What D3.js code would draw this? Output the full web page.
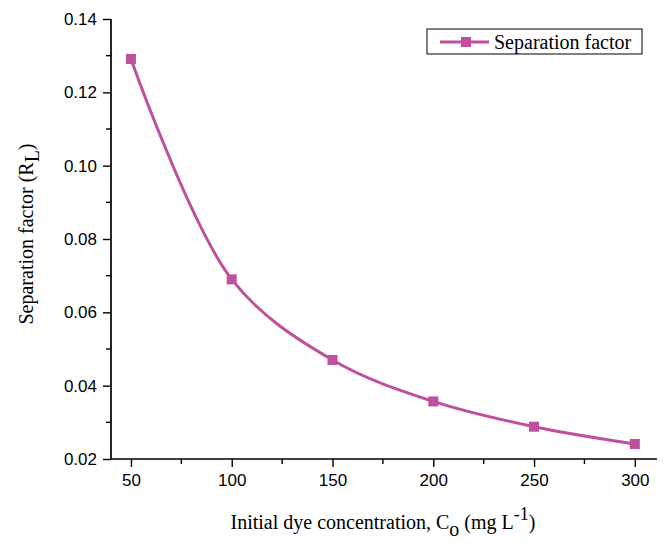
<!DOCTYPE html>
<html>
<head>
<meta charset="utf-8">
<script src="https://cdn.jsdelivr.net/npm/d3@7"></script>
<style>
  html, body { margin: 0; padding: 0; background: #fff; }
  svg { display: block; }
</style>
</head>
<body>
<svg id="chart" width="665" height="548"></svg>
<script>
// Initial dye concentration (mg/L) and separation factor R_L
const concentrations = [50, 100, 150, 200, 250, 300];
const separationFactor = [0.1291, 0.0690, 0.0470, 0.0357, 0.0288, 0.0241];
const xTickValues = [50, 100, 150, 200, 250, 300];
const yTickValues = [0.02, 0.04, 0.06, 0.08, 0.10, 0.12, 0.14];
const seriesName = "Separation factor";

const color = "#C0509E";
const svg = d3.select("#chart");

const plotLeft = 111, plotRight = 657, plotTop = 19, plotBottom = 459;

const x = d3.scaleLinear().domain([40.1, 311]).range([plotLeft, plotRight]);
const y = d3.scaleLinear().domain([0.02, 0.14]).range([plotBottom, plotTop]);

const tickFont = "'Liberation Sans', Arial, sans-serif";
const titleFont = "'Liberation Serif', 'Times New Roman', serif";

// X axis: major and minor ticks
const xMinor = d3.range(75, 300, 50);
const xAxisG = svg.append("g").attr("transform", `translate(0,${plotBottom})`);
xAxisG.append("line").attr("x1", plotLeft).attr("x2", plotRight).attr("y1", 0).attr("y2", 0)
  .attr("stroke", "#000").attr("stroke-width", 1.7);
xAxisG.selectAll(".minor").data(xMinor).join("line")
  .attr("x1", d => x(d)).attr("x2", d => x(d)).attr("y1", 0).attr("y2", 5)
  .attr("stroke", "#000").attr("stroke-width", 1.4);
const xAxis = d3.axisBottom(x).tickValues(xTickValues).tickSize(8).tickPadding(7)
  .tickFormat(d3.format("d"));
const xg = svg.append("g").attr("transform", `translate(0,${plotBottom})`).call(xAxis);
xg.select(".domain").remove();
xg.selectAll(".tick line").attr("stroke-width", 1.4);
xg.selectAll("text").attr("font-family", tickFont).attr("font-size", 17).attr("fill", "#000");

// Y axis: major and minor ticks
const yMinor = d3.range(0.03, 0.14, 0.02);
svg.append("line").attr("x1", plotLeft).attr("x2", plotLeft).attr("y1", plotTop).attr("y2", plotBottom)
  .attr("stroke", "#000").attr("stroke-width", 1.7);
svg.selectAll(".yminor").data(yMinor).join("line")
  .attr("x1", plotLeft - 5).attr("x2", plotLeft).attr("y1", d => y(d)).attr("y2", d => y(d))
  .attr("stroke", "#000").attr("stroke-width", 1.4);
const yAxis = d3.axisLeft(y).tickValues(yTickValues).tickSize(8).tickPadding(6)
  .tickFormat(d3.format(".2f"));
const yg = svg.append("g").attr("transform", `translate(${plotLeft},0)`).call(yAxis);
yg.select(".domain").remove();
yg.selectAll(".tick line").attr("stroke-width", 1.4);
yg.selectAll("text").attr("font-family", tickFont).attr("font-size", 17).attr("fill", "#000");

// Smoothed series line with square markers
const pts = concentrations.map((c, i) => [c, separationFactor[i]]);
const line = d3.line().x(d => x(d[0])).y(d => y(d[1])).curve(d3.curveCatmullRom.alpha(0.5));
svg.append("path").datum(pts).attr("d", line)
  .attr("fill", "none").attr("stroke", color).attr("stroke-width", 3);
const ms = 10;
svg.selectAll(".marker").data(pts).join("rect")
  .attr("x", d => x(d[0]) - ms / 2).attr("y", d => y(d[1]) - ms / 2)
  .attr("width", ms).attr("height", ms).attr("fill", color);

// Axis titles
const xt = svg.append("text").attr("x", 383).attr("y", 529).attr("text-anchor", "middle")
  .attr("font-family", titleFont).attr("font-size", 20).attr("fill", "#000");
xt.append("tspan").text("Initial dye concentration, C");
xt.append("tspan").attr("dy", 7).text("o");
xt.append("tspan").attr("dy", -7).text(" (mg L");
xt.append("tspan").attr("dy", -9).attr("font-size", 18).text("-1");
xt.append("tspan").attr("dy", 9).text(")");

const yt = svg.append("text").attr("transform", "translate(33,234) rotate(-90)")
  .attr("text-anchor", "middle")
  .attr("font-family", titleFont).attr("font-size", 20).attr("fill", "#000");
yt.append("tspan").text("Separation factor (R");
yt.append("tspan").attr("dy", 6).text("L");
yt.append("tspan").attr("dy", -6).text(")");

// Legend
const lg = svg.append("g");
lg.append("rect").attr("x", 427).attr("y", 29).attr("width", 215).attr("height", 25)
  .attr("fill", "#fff").attr("stroke", "#000").attr("stroke-width", 1);
lg.append("line").attr("x1", 440).attr("x2", 489).attr("y1", 42).attr("y2", 42)
  .attr("stroke", color).attr("stroke-width", 3);
lg.append("rect").attr("x", 466 - ms / 2).attr("y", 42 - ms / 2).attr("width", ms).attr("height", ms)
  .attr("fill", color);
lg.append("text").attr("x", 494).attr("y", 49).attr("font-family", titleFont)
  .attr("font-size", 20).attr("fill", "#000").text(seriesName);
</script>
</body>
</html>
